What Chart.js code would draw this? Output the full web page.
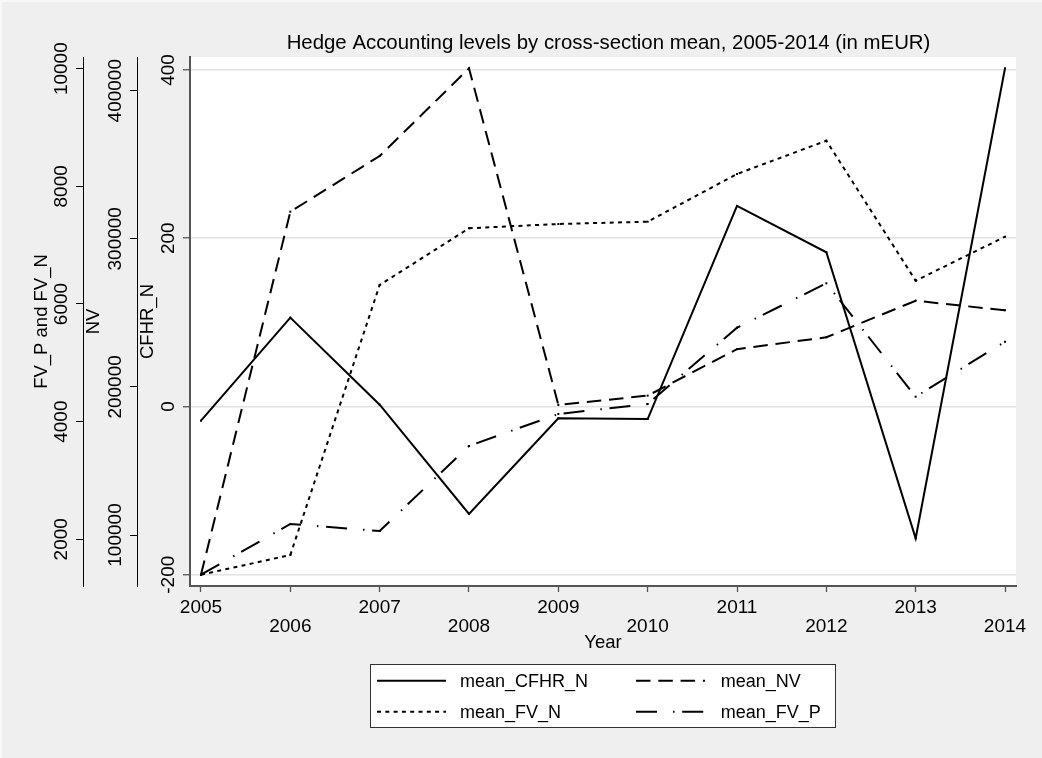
<!DOCTYPE html>
<html>
<head>
<meta charset="utf-8">
<title>Hedge Accounting levels</title>
<script src="https://cdn.jsdelivr.net/npm/chart.js@4.4.1/dist/chart.umd.min.js"></script>
<style>
  html, body { margin: 0; padding: 0; background: #efefef; }
  #wrap { width: 1042px; height: 758px; position: relative; }
  canvas { display: block; }
</style>
</head>
<body>
<div id="wrap"><canvas id="chart" width="1042" height="758"></canvas></div>
<script>
// ---- data ----
const years = [2005, 2006, 2007, 2008, 2009, 2010, 2011, 2012, 2013, 2014];
const meanCFHR_N = [-16.9, 105.6, 2.1, -127.8, -14.0, -14.9, 238.4, 183.3, -156.7, 402.1];
const meanNV = [73200, 318300, 355900, 415100, 187800, 194100, 225500, 233500, 258200, 251700];
const meanFV_N = [1398, 1733, 6323, 7287, 7360, 7399, 8210, 8776, 6396, 7144];
const meanFV_P = [1398, 2260, 2141, 3586, 4130, 4300, 5597, 6352, 4424, 5359];

// tick labels of the three y axes
const cfhrTicks = [-200, 0, 200, 400];
const nvTicks = [100000, 200000, 300000, 400000];
const fvTicks = [2000, 4000, 6000, 8000, 10000];

const seriesNames = ['mean_CFHR_N', 'mean_NV', 'mean_FV_N', 'mean_FV_P'];
const chartTitle = 'Hedge Accounting levels by cross-section mean, 2005-2014 (in mEUR)';
const xTitle = 'Year';
const yTitles = { yFV: 'FV_P and FV_N', yNV: 'NV', yCF: 'CFHR_N' };

// ---- styling ----
const FONT = "'Liberation Sans', Arial, Helvetica, sans-serif";
const TICK_SIZE = 19;
Chart.defaults.font.family = FONT;
Chart.defaults.color = '#000';

const toPoints = arr => years.map((yr, i) => ({ x: yr, y: arr[i] }));

const lineStyle = {
  borderColor: '#000',
  backgroundColor: '#000',
  borderWidth: 2,
  pointRadius: 1.4,
  pointStyle: 'rect',
  pointBorderWidth: 0,
  pointBackgroundColor: '#000',
  tension: 0,
  fill: false
};

const datasets = [
  Object.assign({ label: seriesNames[0], data: toPoints(meanCFHR_N), yAxisID: 'yCF', borderDash: [] }, lineStyle),
  Object.assign({ label: seriesNames[1], data: toPoints(meanNV), yAxisID: 'yNV', borderDash: [14.5, 7.8] }, lineStyle),
  Object.assign({ label: seriesNames[2], data: toPoints(meanFV_N), yAxisID: 'yFV', borderDash: [4, 4.3] }, lineStyle),
  Object.assign({ label: seriesNames[3], data: toPoints(meanFV_P), yAxisID: 'yFV', borderDash: [21, 16, 1.5, 7.7] }, lineStyle)
];

// grey graph region, white plot region
const backgroundPlugin = {
  id: 'regions',
  beforeDraw(chart) {
    const { ctx, chartArea: a } = chart;
    ctx.save();
    ctx.fillStyle = '#efefef';
    ctx.fillRect(0, 0, chart.width, chart.height);
    ctx.fillStyle = '#f8f8f8';
    ctx.fillRect(0, 0, chart.width, 2);
    ctx.fillRect(0, 0, 2, chart.height);
    ctx.fillStyle = '#ffffff';
    ctx.fillRect(a.left, a.top, a.right - a.left, a.bottom - a.top);
    ctx.restore();
  }
};

// vertical tick labels on the left axes, title and the boxed two-column key
const annotatePlugin = {
  id: 'annotate',
  afterDraw(chart) {
    const { ctx } = chart;
    ctx.save();
    ctx.fillStyle = '#000';
    ctx.font = TICK_SIZE + 'px ' + FONT;
    ['yFV', 'yNV', 'yCF'].forEach(id => {
      const s = chart.scales[id];
      s.ticks.forEach(t => {
        const y = s.getPixelForValue(t.value);
        ctx.save();
        ctx.translate(s.right - 21, y);
        ctx.rotate(-Math.PI / 2);
        ctx.textAlign = 'center';
        ctx.textBaseline = 'middle';
        ctx.fillText(String(t.value), 0, 0);
        ctx.restore();
      });
    });

    // chart title
    ctx.font = '20.4px ' + FONT;
    ctx.textAlign = 'center';
    ctx.textBaseline = 'alphabetic';
    ctx.fillText(chartTitle, 608.5, 49.3);

    // key
    const bx = 370.5, by = 664.5, bw = 465, bh = 63;
    ctx.fillStyle = '#ffffff';
    ctx.fillRect(bx, by, bw, bh);
    ctx.strokeStyle = '#333';
    ctx.lineWidth = 1;
    ctx.setLineDash([]);
    ctx.strokeRect(bx, by, bw, bh);
    const colLine = [377, 636];
    const colText = [460, 720.7];
    const rowLine = [680.7, 711.7];
    const rowText = [686.8, 717.6];
    ctx.font = '18px ' + FONT;
    ctx.textAlign = 'left';
    chart.data.datasets.forEach((ds, i) => {
      const col = i % 2, row = Math.floor(i / 2);
      ctx.strokeStyle = ds.borderColor;
      ctx.lineWidth = ds.borderWidth;
      ctx.setLineDash(ds.borderDash);
      ctx.beginPath();
      ctx.moveTo(colLine[col], rowLine[row]);
      ctx.lineTo(colLine[col] + 69, rowLine[row]);
      ctx.stroke();
      ctx.setLineDash([]);
      ctx.fillStyle = '#000';
      ctx.fillText(ds.label, colText[col], rowText[row]);
    });
    ctx.restore();
  }
};

const sideAxis = (id, weight, width, min, max, tickList, inner) => ({
  type: 'linear',
  position: 'left',
  weight: weight,
  min: min,
  max: max,
  afterBuildTicks: s => { s.ticks = tickList.map(v => ({ value: v })); },
  afterFit: s => { s.width = width; },
  ticks: { display: false },
  title: {
    display: true,
    text: yTitles[id],
    color: '#000',
    font: { size: 18.5, lineHeight: 1.2 },
    padding: { top: 0, bottom: 0 }
  },
  grid: inner ? {
    drawOnChartArea: true,
    color: '#e2e2e2',
    lineWidth: 1.5,
    drawTicks: true,
    tickLength: 7,
    tickColor: '#555',
    tickWidth: 1.3
  } : {
    drawOnChartArea: false,
    drawTicks: true,
    tickLength: 7,
    tickColor: '#000',
    tickWidth: 1
  },
  border: inner ? { display: true, color: '#555', width: 2 } : { display: true, color: '#000', width: 1 }
});

new Chart(document.getElementById('chart'), {
  type: 'line',
  data: { datasets: datasets },
  plugins: [backgroundPlugin, annotatePlugin],
  options: {
    responsive: false,
    animation: false,
    devicePixelRatio: 1,
    layout: { padding: { left: 31, top: 57, right: 26, bottom: 104 } },
    plugins: {
      legend: { display: false },
      title: { display: false },
      tooltip: { enabled: false }
    },
    scales: {
      x: {
        type: 'linear',
        position: 'bottom',
        min: 2004.8769,
        max: 2014.1231,
        afterBuildTicks: s => { s.ticks = years.map(v => ({ value: v })); },
        afterFit: s => { s.height = 68; },
        ticks: {
          autoSkip: false,
          maxRotation: 0,
          minRotation: 0,
          padding: 6,
          color: '#000',
          font: { size: TICK_SIZE, lineHeight: 1.0 },
          callback: (v, i) => (i % 2 === 0 ? String(v) : ['', String(v)])
        },
        title: {
          display: true,
          text: xTitle,
          color: '#000',
          font: { size: 18.5, lineHeight: 1.2 },
          padding: { top: 0, bottom: 0 }
        },
        grid: {
          drawOnChartArea: false,
          drawTicks: true,
          tickLength: 6,
          tickColor: '#555',
          tickWidth: 1.3
        },
        border: { display: true, color: '#555', width: 2 }
      },
      yFV: sideAxis('yFV', 3, 52, 1206.1, 10198.9, fvTicks, false),
      yNV: sideAxis('yNV', 2, 54, 65564, 422755, nvTicks, false),
      yCF: sideAxis('yCF', 1, 53, -213.4, 415.45, cfhrTicks, true)
    }
  }
});
</script>
</body>
</html>
